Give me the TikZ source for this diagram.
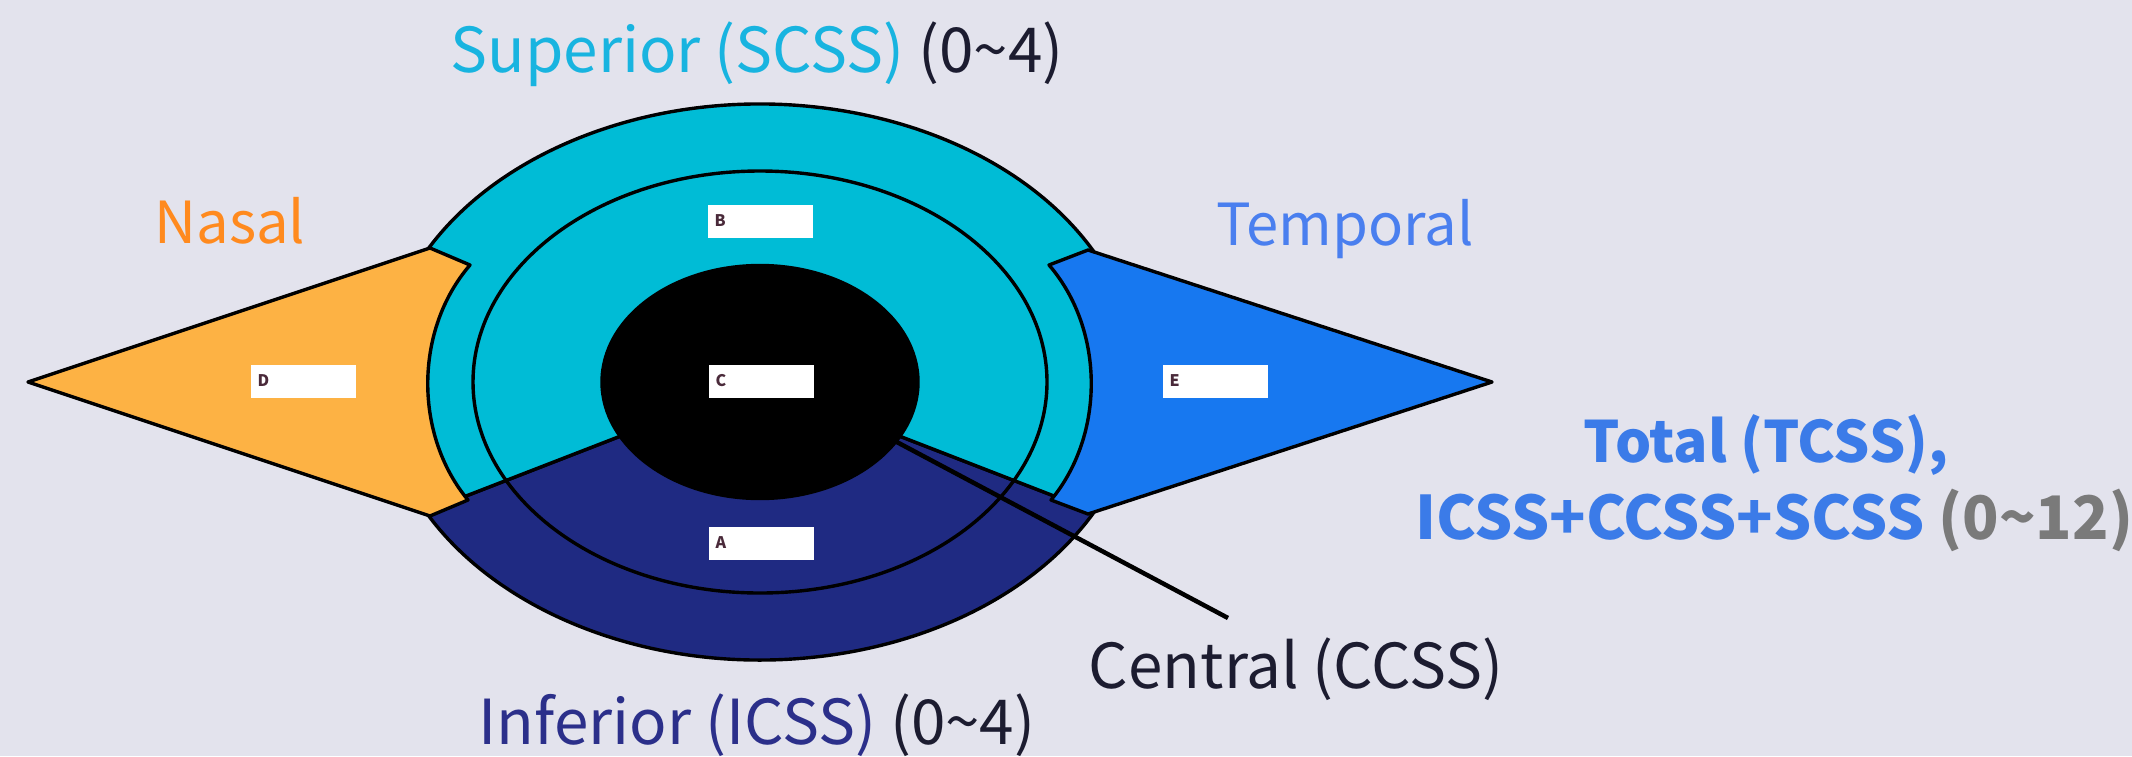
\documentclass[tikz,border=0pt]{standalone}
\usepackage{fontspec}
\setmainfont{Noto Sans CJK KR}
\definecolor{bgc}{HTML}{E3E3ED}
\definecolor{supc}{HTML}{00BCD6}
\definecolor{infc}{HTML}{1F2A82}
\definecolor{nasc}{HTML}{FDB244}
\definecolor{temc}{HTML}{1778F0}
\definecolor{suptxt}{HTML}{18B4E0}
\definecolor{inftxt}{HTML}{2B2F8A}
\definecolor{nastxt}{HTML}{FF8A1E}
\definecolor{temtxt}{HTML}{4A7FEF}
\definecolor{tottxt}{HTML}{3B7BE8}
\definecolor{graytxt}{HTML}{7A7A7A}
\definecolor{darktxt}{HTML}{1C1C30}
\definecolor{lettc}{HTML}{4A2A3A}
\newcommand{\tld}{\char"007E\relax}
\begin{document}
\begin{tikzpicture}[x=1pt,y=-1pt,
  outline/.style={draw=black,line width=3.4pt,line join=round},
  labelbox/.style={fill=white,inner xsep=7pt,inner ysep=0pt,text width=91pt,
    minimum height=33pt,align=left,text=lettc,
    font=\fontsize{16}{16}\selectfont\bfseries},
  title/.style={anchor=base,inner sep=0pt,font=\fontsize{58}{58}\selectfont},
  bigtitle/.style={anchor=base,inner sep=0pt,font=\fontsize{62}{62}\selectfont},
  boldtitle/.style={anchor=base,inner sep=0pt,text=tottxt,
    font=\fontsize{60}{60}\selectfont\bfseries}]
% canvas
\useasboundingbox (0,0) rectangle (2132,756);
\path[fill=bgc] (0,0) rectangle (2132,756);
\def\cx{760}\def\cy{382}
% inferior sector
\path[fill=infc,outline] (\cx,\cy) -- ({\cx+378*cos(27.8)},{\cy+278*sin(27.8)})
  arc[start angle=27.8,end angle=152.2,x radius=378,y radius=278] -- cycle;
% superior sector
\path[fill=supc,outline] (\cx,\cy) -- ({\cx+378*cos(152.2)},{\cy+278*sin(152.2)})
  arc[start angle=152.2,end angle=387.8,x radius=378,y radius=278] -- cycle;
% middle ring line
\draw[outline] (\cx,\cy) ellipse [x radius=287,y radius=211];
% central disc
\path[fill=black,outline] (\cx,\cy) ellipse [x radius=158,y radius=116.5];
% nasal wedge
\path[fill=nasc,outline] (28,382) -- (430,248) -- (470,265)
  .. controls (414,330) and (414,435) .. (468,500) -- (430,516) -- cycle;
% temporal wedge
\path[fill=temc,outline] (1492,382) -- (1088,250) -- (1049,265)
  .. controls (1105,330) and (1105,435) .. (1051,500) -- (1088,514) -- cycle;
% pointer to the central region
\coordinate (ptrA) at (893,440);
\coordinate (ptrB) at (1228,618);
\draw[black,line width=4.5pt] (ptrA) -- (ptrB);
% region labels
\node[labelbox] (lbB) at (760,221) {B};
\node[labelbox] (lbC) at (761,381) {C};
\node[labelbox] (lbA) at (761,543) {A};
\node[labelbox] (lbD) at (303,381) {D};
\node[labelbox] (lbE) at (1215,381) {E};
% titles
\node[bigtitle] (tSup) at (757,72) {{\color{suptxt}Superior (SCSS)} {\color{darktxt}(0\tld4)}};
\node[title,text=nastxt] (tNas) at (230,243) {Nasal};
\node[title,text=temtxt] (tTem) at (1345,245) {Temporal};
\node[boldtitle,font=\fontsize{57}{57}\selectfont\bfseries] (tTot) at (1766,462) {Total (TCSS),};
\node[boldtitle] (tSum) at (1774,539) {ICSS+CCSS+SCSS {\color{graytxt}(0\tld12)}};
\node[bigtitle,text=darktxt] (tCen) at (1296,688) {Central (CCSS)};
\node[bigtitle] (tInf) at (757,744) {{\color{inftxt}Inferior (ICSS)} {\color{darktxt}(0\tld4)}};
\end{tikzpicture}
\end{document}
